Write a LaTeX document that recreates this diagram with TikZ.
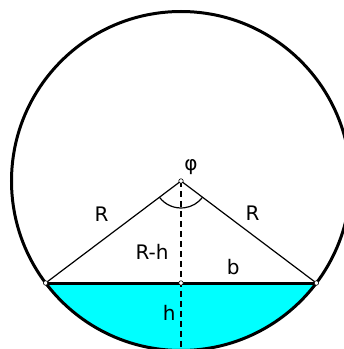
\documentclass[tikz,border=0pt]{standalone}
\usepackage{fontspec}
\setmainfont{DejaVu Sans}
\definecolor{aqua}{RGB}{0,255,255}
\begin{document}
\begin{tikzpicture}[x=1pt,y=1pt,
  lbl/.style={font=\fontsize{20}{20}\selectfont, inner sep=0pt},
  pt/.style={circle, draw=black, fill=white, line width=0.6pt, inner sep=0pt, minimum size=4.5pt},
  thin line/.style={line width=1.2pt},
  thick line/.style={line width=3pt}]
\useasboundingbox (0,0) rectangle (344,349);
\clip (0,0) rectangle (344,349);
\coordinate (C) at (181,168);
\coordinate (A) at ([shift={(217:169.5)}]C);
\coordinate (B) at ([shift={(323:169.5)}]C);
\coordinate (M) at (181,66);
\coordinate (Bot) at (181,-5);
% segment
\fill[aqua] (A) arc[start angle=217, end angle=323, radius=169.5] -- cycle;
% circle
\draw[thick line] (C) circle[radius=169.5];
% chord
\draw[thick line] (A) -- (B);
% radii
\draw[thin line] (A) -- (C) -- (B);
% angle arc
\draw[thin line] ([shift={(217:27)}]C) arc[start angle=217, end angle=323, radius=27];
% dashed height
\draw[thin line, dash pattern=on 6pt off 4pt] (C) -- (Bot);
% points
\node[pt] (pC) at (C) {};
\node[pt] (pA) at (A) {};
\node[pt] (pB) at (B) {};
\node[pt] (pM) at (M) {};
% labels
\node[lbl] (phi) at (191,181.5) {φ};
\node[lbl] (R1) at (101.5,135) {R};
\node[lbl] (R2) at (252.5,136) {R};
\node[lbl] (Rh) at (152,97.5) {R-h};
\node[lbl] (b) at (233.3,82.3) {b};
\node[lbl] (h) at (169.2,35.7) {h};
\end{tikzpicture}
\end{document}
